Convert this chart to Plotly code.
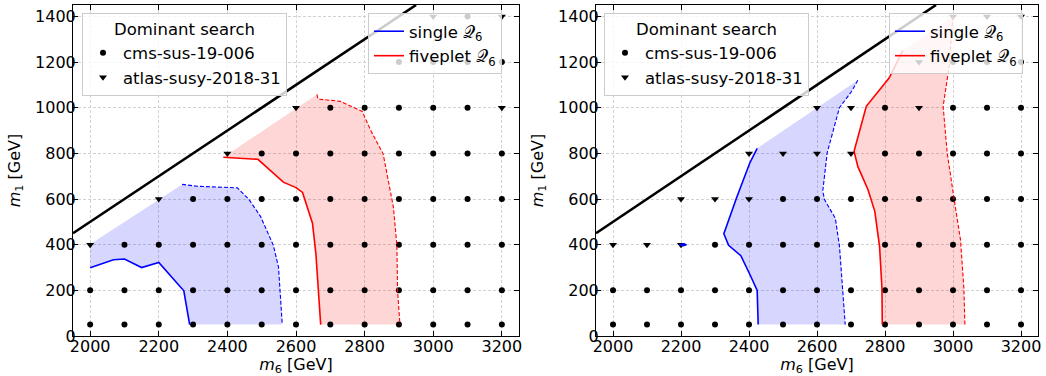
import plotly.graph_objects as go

# ---------------- data ----------------
M6_GRID = [2000, 2100, 2200, 2300, 2400, 2500, 2600, 2700, 2800, 2900, 3000, 3100, 3200]
M1_ROWS = [50, 200, 400, 600, 800, 1000, 1200, 1400]

# dominant search per grid point: c = cms-sus-19-006, a = atlas-susy-2018-31, . = none
LEFT_SEARCH = [
    "ccccccccccccc",
    "ccccccccccccc",
    "acccccccccccc",
    "..acccccccccc",
    "....acccccccc",
    "......accccca",
    ".........cccc",
    "..........aca",
]
RIGHT_SEARCH = [
    "ccccccccccccc",
    "ccccccccccccc",
    "aaacccccccccc",
    "..aaacccccccc",
    "....aaaaccccc",
    "......aacaccc",
    ".........accc",
    "..........aaa",
]

# kinematic boundary line m1 = m6 - 1500
BOUND_M6 = [1950, 2950]
BOUND_M1 = [450, 1450]

# left panel contours
L_SINGLE_OBS_M6 = [2000, 2068, 2100, 2150, 2200, 2273, 2290]
L_SINGLE_OBS_M1 = [299, 334, 337, 300, 322, 198, 50]
L_SINGLE_EXP_M6 = [2268, 2312, 2429, 2463, 2497, 2534, 2549, 2560]
L_SINGLE_EXP_M1 = [664, 656, 649, 598, 523, 397, 302, 50]
L_SINGLE_CORNER = (2000, 402)

L_FIVE_OBS_M6 = [2388, 2489, 2563, 2600, 2619, 2648, 2658, 2666, 2672]
L_FIVE_OBS_M1 = [783, 774, 674, 650, 629, 494, 360, 200, 50]
L_FIVE_EXP_M6 = [2661, 2664, 2729, 2793, 2818, 2854, 2869, 2884, 2894, 2896, 2903]
L_FIVE_EXP_M1 = [1058, 1038, 1028, 984, 900, 798, 681, 564, 397, 200, 50]
L_FIVE_CORNER = (2402, 797)

# right panel contours
R_SINGLE_OBS_M6 = [2424, 2412, 2402, 2364, 2326, 2340, 2376, 2404, 2424, 2427]
R_SINGLE_OBS_M1 = [822, 783, 757, 608, 448, 397, 352, 265, 200, 50]
R_SINGLE_EXP_M6 = [2720, 2702, 2666, 2630, 2617, 2622, 2654, 2666, 2683]
R_SINGLE_EXP_M1 = [1120, 1072, 1000, 803, 635, 598, 515, 395, 50]
R_SINGLE_ISLAND_M6 = [2196, 2207, 2216, 2207, 2196]
R_SINGLE_ISLAND_M1 = [400, 404, 400, 396, 400]

R_FIVE_OBS_M6 = [2852, 2826, 2812, 2745, 2709, 2720, 2750, 2770, 2784, 2791, 2792]
R_FIVE_OBS_M1 = [1250, 1174, 1130, 1006, 809, 743, 641, 546, 393, 210, 50]
R_FIVE_EXP_M6 = [3000, 2988, 2971, 2983, 3002, 3022, 3032, 3035]
R_FIVE_EXP_M1 = [1400, 1174, 1006, 801, 612, 422, 210, 50]

# ---------------- style ----------------
FONT = "DejaVu Sans"
FS = 16
LFS = 16.5
BLUE = "#0000ff"
RED = "#ff0000"
BLUE_FILL = "rgba(0,0,255,0.16)"
RED_FILL = "rgba(255,0,0,0.16)"
Q6 = "\U0001D4AC<sub>6</sub>"

fig = go.Figure()


def grid_points(search):
    pts = {"c": ([], []), "a": ([], [])}
    for row, m1 in zip(search, M1_ROWS):
        for ch, m6 in zip(row, M6_GRID):
            if ch in pts:
                pts[ch][0].append(m6)
                pts[ch][1].append(m1)
    return pts


def fill_poly(obs_x, obs_y, exp_x, exp_y, corner=None):
    xs, ys = [], []
    if corner is not None:
        xs.append(corner[0]); ys.append(corner[1])
    xs += list(exp_x); ys += list(exp_y)
    xs += list(reversed(obs_x)); ys += list(reversed(obs_y))
    xs.append(xs[0]); ys.append(ys[0])
    return xs, ys


def panel(xa, ya, search, contours, leg_dom, leg_lines):
    for (ox, oy, ex, ey, corner, fc) in contours:
        px, py = fill_poly(ox, oy, ex, ey, corner)
        fig.add_trace(go.Scatter(x=px, y=py, mode="lines", fill="toself",
                                 fillcolor=fc, line=dict(width=0),
                                 hoverinfo="skip", showlegend=False,
                                 xaxis=xa, yaxis=ya))
    pts = grid_points(search)
    fig.add_trace(go.Scatter(x=pts["c"][0], y=pts["c"][1], mode="markers",
                             marker=dict(symbol="circle", size=6, color="black"),
                             name="cms-sus-19-006", legend=leg_dom,
                             showlegend=True, xaxis=xa, yaxis=ya))
    fig.add_trace(go.Scatter(x=pts["a"][0], y=pts["a"][1], mode="markers",
                             marker=dict(symbol="triangle-down", size=7, color="black"),
                             name="atlas-susy-2018-31", legend=leg_dom,
                             showlegend=True, xaxis=xa, yaxis=ya))
    names = ["single " + Q6, "fiveplet " + Q6]
    for i, (ox, oy, ex, ey, corner, fc) in enumerate(contours):
        col = BLUE if i == 0 else RED
        fig.add_trace(go.Scatter(x=ex, y=ey, mode="lines",
                                 line=dict(color=col, width=1.1, dash="4px,2px"),
                                 showlegend=False, xaxis=xa, yaxis=ya))
        fig.add_trace(go.Scatter(x=ox, y=oy, mode="lines",
                                 line=dict(color=col, width=1.6),
                                 name=names[i], legend=leg_lines,
                                 showlegend=True, xaxis=xa, yaxis=ya))
    fig.add_trace(go.Scatter(x=BOUND_M6, y=BOUND_M1, mode="lines",
                             line=dict(color="black", width=2.6),
                             showlegend=False, xaxis=xa, yaxis=ya))


panel("x", "y", LEFT_SEARCH,
      [(L_SINGLE_OBS_M6, L_SINGLE_OBS_M1, L_SINGLE_EXP_M6, L_SINGLE_EXP_M1, L_SINGLE_CORNER, BLUE_FILL),
       (L_FIVE_OBS_M6, L_FIVE_OBS_M1, L_FIVE_EXP_M6, L_FIVE_EXP_M1, L_FIVE_CORNER, RED_FILL)],
      "legend", "legend2")
panel("x2", "y2", RIGHT_SEARCH,
      [(R_SINGLE_OBS_M6, R_SINGLE_OBS_M1, R_SINGLE_EXP_M6, R_SINGLE_EXP_M1, None, BLUE_FILL),
       (R_FIVE_OBS_M6, R_FIVE_OBS_M1, R_FIVE_EXP_M6, R_FIVE_EXP_M1, None, RED_FILL)],
      "legend3", "legend4")
fig.add_trace(go.Scatter(x=R_SINGLE_ISLAND_M6, y=R_SINGLE_ISLAND_M1, mode="lines",
                         line=dict(color=BLUE, width=1.6), fill="toself",
                         fillcolor=BLUE, showlegend=False, xaxis="x2", yaxis="y2"))

axis_common = dict(
    showline=True, linecolor="black", linewidth=1, mirror="ticks",
    ticks="inside", ticklen=5, tickwidth=1, tickcolor="black",
    showgrid=True, gridcolor="#d2d2d2", gridwidth=0.8, griddash="3px,2px",
    zeroline=False, tickfont=dict(family=FONT, size=FS, color="black"),
    automargin=False,
)
xa = dict(axis_common, range=[1950, 3250], tickvals=list(range(2000, 3201, 200)),
          ticklabelstandoff=-4,
          title=dict(text="<i>m</i><sub>6</sub> [GeV]", font=dict(family=FONT, size=FS), standoff=2))
ya = dict(axis_common, range=[0, 1450], tickvals=list(range(0, 1401, 200)),
          ticklabelstandoff=-7,
          title=dict(text="<i>m</i><sub>1</sub> [GeV]", font=dict(family=FONT, size=FS), standoff=10))

YDOM = [40 / 376, 371 / 376]
fig.update_layout(
    width=1046, height=376,
    margin=dict(l=0, r=0, t=0, b=0),
    paper_bgcolor="white", plot_bgcolor="white",
    font=dict(family=FONT, size=FS, color="black"),
    xaxis=dict(xa, domain=[73 / 1046, 519 / 1046], anchor="y"),
    yaxis=dict(ya, domain=YDOM, anchor="x"),
    xaxis2=dict(xa, domain=[596 / 1046, 1038 / 1046], anchor="y2"),
    yaxis2=dict(ya, domain=YDOM, anchor="x2"),
)

leg_common = dict(bgcolor="rgba(255,255,255,0.8)", bordercolor="#cccccc", borderwidth=1,
                  font=dict(family=FONT, size=LFS), xanchor="left", yanchor="top",
                  tracegroupgap=0)
fig.update_layout(
    legend=dict(leg_common, x=82 / 1046, y=1 - 13 / 376,
                title=dict(text="Dominant search", side="top center", font=dict(family=FONT, size=LFS))),
    legend2=dict(leg_common, x=368 / 1046, y=1 - 13 / 376),
    legend3=dict(leg_common, x=604 / 1046, y=1 - 13 / 376,
                 title=dict(text="Dominant search", side="top center", font=dict(family=FONT, size=LFS))),
    legend4=dict(leg_common, x=889 / 1046, y=1 - 13 / 376),
)

fig.write_html("out.html", config={"displayModeBar": False},
               post_script="document.body.style.margin='0';document.body.style.padding='0';")
